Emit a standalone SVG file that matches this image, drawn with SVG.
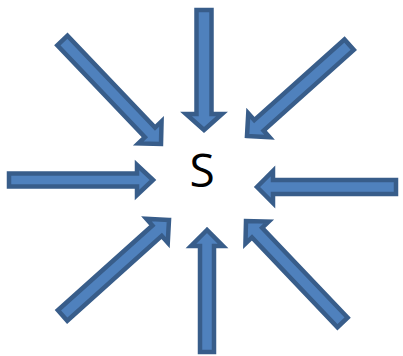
<svg xmlns="http://www.w3.org/2000/svg" width="403" height="356" viewBox="0 0 403 356">
<defs>
<style>
.arr{fill:#4F81BD;stroke:#385D8A;stroke-width:4.5;stroke-linejoin:miter}
.lbl{font-family:"Open Sans","Liberation Sans",sans-serif;font-size:46px;fill:#000}
</style>
</defs>
<rect width="403" height="356" fill="#fff"/>
<g id="connectors">
<polygon id="a-top" class="arr" transform="translate(204,130) rotate(90)" points="0,0 -16,-18 -16,-7.5 -120,-7.5 -120,7.5 -16,7.5 -16,18"/>
<polygon id="a-bottom" class="arr" transform="translate(207,230) rotate(-90)" points="0,0 -16,-16 -16,-7 -122,-7 -122,7 -16,7 -16,16"/>
<polygon id="a-left" class="arr" transform="translate(153,180) rotate(0)" points="0,0 -16,-15 -16,-6.5 -144,-6.5 -144,6.5 -16,6.5 -16,15"/>
<polygon id="a-right" class="arr" transform="translate(257,187) rotate(180)" points="0,0 -16,-16 -16,-7 -139,-7 -139,7 -16,7 -16,16"/>
<polygon id="a-ul" class="arr" transform="translate(161,144) rotate(46.4)" points="0,0 -16,-16 -16,-7 -143,-7 -143,7 -16,7 -16,16"/>
<polygon id="a-ur" class="arr" transform="translate(247,136) rotate(138.2)" points="0,0 -16,-16 -16,-7 -137,-7 -137,7 -16,7 -16,16"/>
<polygon id="a-ll" class="arr" transform="translate(169,220) rotate(-41.9)" points="0,0 -16,-16 -16,-7 -143,-7 -143,7 -16,7 -16,16"/>
<polygon id="a-lr" class="arr" transform="translate(246,221) rotate(-133.6)" points="0,0 -16,-16 -16,-7 -140,-7 -140,7 -16,7 -16,16"/>
</g>
<g id="node-s">
<text class="lbl" x="202" y="187" text-anchor="middle">S</text>
</g>
</svg>
